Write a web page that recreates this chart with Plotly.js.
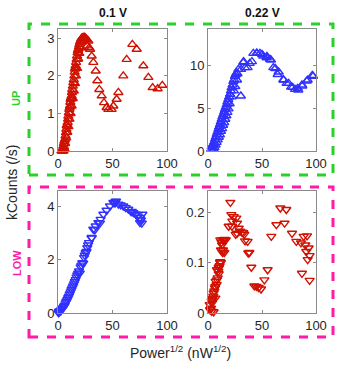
<!DOCTYPE html>
<html>
<head>
<meta charset="utf-8">
<script src="https://cdn.plot.ly/plotly-3.0.1.min.js"></script>
<style>
  html, body { margin: 0; padding: 0; background: #fff; }
  #chart { width: 339px; height: 366px; }
</style>
</head>
<body>
<div id="chart"></div>
<script>
// UP, 0.1 V
const upLowX = [3.2, 3.8, 4.3, 4.9, 5.4, 5.9, 6.4, 6.9, 7.3, 7.7,
  8.0, 8.4, 8.9, 9.2, 9.5, 10.0, 10.4, 10.7, 11.0, 11.3,
  11.6, 12.0, 12.5, 12.8, 13.1, 13.6, 14.1, 14.5, 15.0, 15.3,
  15.6, 15.9, 16.2, 16.6, 17.1, 17.5, 18.0, 18.3, 18.7, 19.2,
  19.6, 20.2, 20.8, 21.2, 21.7, 22.3, 23.2, 24.0, 24.8, 25.5,
  26.3, 26.9, 27.8, 28.6, 29.4, 30.9, 32.4, 34.6, 36.1, 37.9,
  40.1, 42.2, 44.6, 46.2, 49.2, 50.8, 53.8, 55.4, 59.9, 63.0,
  68.2, 72.2, 78.3, 82.9, 86.8, 91.4, 95.7,
  4.5, 5.5, 6.5, 7.5, 8.5, 9.5, 10.5, 11.5, 12.5, 13.5,
  14.5, 15.5, 16.5, 17.5, 18.5, 19.5, 20.5, 22.0, 5.0, 6.0, 4.0];
const upLowY = [0.00, 0.03, 0.06, 0.13, 0.20, 0.26, 0.31, 0.40, 0.49, 0.58,
  0.67, 0.70, 0.76, 0.85, 0.93, 1.02, 1.11, 1.15, 1.20, 1.30,
  1.38, 1.42, 1.47, 1.56, 1.64, 1.73, 1.82, 1.90, 2.00, 2.10,
  2.18, 2.22, 2.27, 2.36, 2.44, 2.53, 2.62, 2.67, 2.71, 2.78,
  2.84, 2.90, 2.93, 2.97, 3.00, 3.02, 3.02, 3.03, 3.02, 3.00,
  2.97, 2.80, 2.93, 2.75, 2.71, 2.53, 2.36, 2.13, 1.87, 1.64,
  1.47, 1.29, 1.16, 1.11, 1.11, 1.20, 1.38, 1.56, 2.00, 2.44,
  2.84, 2.71, 2.27, 1.96, 1.69, 1.66, 1.75,
  0.02, 0.10, 0.20, 0.35, 0.50, 0.65, 0.85, 1.00, 1.20, 1.40,
  1.60, 1.80, 2.00, 2.20, 2.45, 2.60, 2.75, 2.90, 0.00, 0.05, 0.00];

// UP, 0.22 V
const upHighX = [3.0, 3.4, 4.0, 4.9, 5.5, 6.5, 7.2, 8.0, 8.8, 9.6,
  10.3, 11.1, 11.9, 12.7, 13.4, 14.2, 15.0, 15.7, 16.5, 17.3,
  18.0, 18.8, 19.6, 20.4, 21.2, 21.9, 22.7, 23.5, 24.2, 25.0,
  25.8, 26.5, 27.3, 28.1, 30.4, 30.6, 32.7, 33.0, 34.3, 36.7,
  38.6, 40.7, 42.0, 45.0, 45.4, 48.1, 50.0, 51.2, 54.3, 54.6,
  57.4, 58.3, 60.5, 62.3, 64.5, 65.4, 69.8, 70.0, 72.8, 74.7,
  76.9, 78.4, 80.6, 83.0, 83.6, 87.0, 87.3, 91.4, 92.3, 96.6, 97.2,
  5, 6, 7, 8, 9, 10, 11, 12, 13, 14, 15, 16, 17, 18, 19, 20, 22, 24, 25.3, 26.9];
const upHighY = [0.2, 0.5, 0.6, 0.78, 1.0, 1.36, 1.6, 1.94, 2.2, 2.5,
  2.8, 3.1, 3.4, 3.7, 4.0, 4.26, 4.55, 4.84, 5.1, 5.4,
  5.7, 6.0, 6.3, 6.6, 7.0, 7.36, 7.7, 8.1, 8.3, 8.7,
  8.9, 9.1, 9.0, 9.5, 6.4, 9.5, 10.3, 10.4, 9.7, 9.7,
  10.2, 10.4, 11.36, 11.4, 11.36, 11.36, 11.24, 11.05, 10.85, 11.0,
  10.66, 10.6, 9.7, 9.6, 8.9, 9.2, 8.3, 8.26, 7.87, 7.87,
  7.44, 7.4, 7.17, 7.3, 7.1, 7.7, 7.56, 8.14, 8.26, 8.8, 8.7,
  0.2, 0.4, 0.7, 1.0, 1.3, 1.6, 1.9, 2.3, 2.6, 3.0, 3.3, 3.7, 4.1, 4.5, 4.9, 5.5, 6.3, 7.0, 7.5, 8.26];

// LOW, 0.1 V
const lowLowX = [0.5, 0.9, 1.5, 2.0, 2.8, 3.2, 4.0, 4.5, 5.5, 6.2,
  7.0, 7.8, 8.6, 9.3, 10.1, 10.8, 11.6, 12.4, 13.1, 13.9,
  14.7, 15.4, 16.2, 17.0, 17.7, 18.5, 19.3, 20.0, 20.8, 21.5,
  22.3, 23.1, 23.9, 24.6, 25.4, 26.2, 26.9, 27.6, 28.4, 30.8,
  30.9, 32.4, 33.8, 34.6, 37.0, 38.5, 39.1, 41.6, 44.6, 47.7,
  50.8, 52.3, 52.9, 53.2, 55.4, 57.5, 59.9, 62.1, 64.5, 67.0,
  67.7, 69.1, 71.3, 73.1, 75.2, 75.4, 76.1, 76.9, 75.2, 77.4];
const lowLowY = [0.02, 0.075, 0.05, 0.1, 0.1, 0.15, 0.18, 0.2, 0.26, 0.3,
  0.39, 0.45, 0.51, 0.58, 0.64, 0.72, 0.8, 0.88, 0.95, 1.02,
  1.1, 1.18, 1.26, 1.35, 1.43, 1.5, 1.58, 1.5, 1.73, 1.8,
  1.89, 1.87, 2.08, 2.17, 2.26, 2.31, 2.45, 2.55, 2.64, 2.81,
  2.83, 3.14, 3.12, 3.26, 3.39, 3.37, 3.51, 3.7, 3.85, 4.01,
  4.14, 4.12, 4.18, 4.19, 4.08, 4.05, 4.01, 3.95, 3.89, 3.8,
  3.81, 3.76, 3.7, 3.64, 3.58, 3.5, 3.48, 3.37, 3.39, 3.7];

// LOW, 0.22 V
const lowHighX = [1.5, 1.85, 2.8, 3.4, 3.7, 4.0, 4.6, 4.9, 5.2, 5.9,
  6.5, 6.8, 6.8, 7.1, 8.0, 8.3, 8.3, 9.0, 9.6, 9.9,
  9.9, 10.2, 10.8, 11.1, 11.4, 12.0, 11.4, 13.0, 13.9, 14.5,
  15.1, 19.1, 20.7, 21.6, 22.2, 23.8, 26.2, 26.9, 26.9, 28.4,
  31.5, 33.6, 36.7, 38.3, 40.1, 42.9, 44.8, 46.9, 49.1, 52.2,
  55.2, 58.6, 63.3, 67.0, 70.9, 72.5, 77.8, 81.8, 86.1, 87.0,
  88.6, 90.1, 91.0, 91.7, 92.3, 93.2, 94.1, 94.1, 5.2, 3.4,
  12.5, 13.5, 14.5, 15.5, 16.5, 12.0, 13.5, 22.5, 25.6, 29.6, 32.7, 34.3, 37.3];
const lowHighY = [0.017, 0.007, 0.01, 0.004, 0.02, 0.027, 0.03, 0.034, 0.04, 0.044,
  0.05, 0.053, 0.03, 0.063, 0.057, 0.066, 0.086, 0.07, 0.083, 0.078,
  0.091, 0.09, 0.094, 0.10, 0.102, 0.10, 0.145, 0.135, 0.125, 0.145,
  0.12, 0.172, 0.219, 0.195, 0.172, 0.191, 0.188, 0.178, 0.158, 0.168,
  0.160, 0.156, 0.142, 0.12, 0.091, 0.054, 0.053, 0.051, 0.048, 0.066,
  0.086, 0.152, 0.175, 0.208, 0.178, 0.205, 0.158, 0.142, 0.139, 0.079,
  0.152, 0.135, 0.122, 0.153, 0.106, 0.129, 0.114, 0.065, 0.003, 0.024,
  0.14, 0.145, 0.143, 0.146, 0.145, 0.125, 0.12, 0.182, 0.156, 0.162, 0.159, 0.143, 0.119];

const red = 'rgb(208,16,0)';
const blue = 'rgb(48,48,255)';
const W = 339, H = 366;
const px = v => v / W;
const py = v => 1 - v / H;

function series(x, y, xa, ya, color, sym) {
  return {
    x: x, y: y, xaxis: xa, yaxis: ya, type: 'scatter', mode: 'markers',
    marker: { symbol: sym, size: 8, color: color, line: { color: color, width: 1.4 } },
    showlegend: false, hoverinfo: 'skip', cliponaxis: false
  };
}

const traces = [
  series(upLowX, upLowY, 'x', 'y', red, 'triangle-up-open'),
  series(upHighX, upHighY, 'x2', 'y2', blue, 'triangle-up-open'),
  series(lowLowX, lowLowY, 'x3', 'y3', blue, 'triangle-down-open'),
  series(lowHighX, lowHighY, 'x4', 'y4', red, 'triangle-down-open')
];

function ax(domain, anchor, range, dtick) {
  return {
    domain: domain, anchor: anchor, range: range, dtick: dtick,
    showline: true, mirror: 'ticks', linecolor: '#8a8a8a', linewidth: 1,
    ticks: 'inside', ticklen: 3, tickcolor: '#8a8a8a',
    showgrid: false, zeroline: false,
    tickfont: { family: 'Liberation Sans, Arial, sans-serif', size: 13, color: '#262626' }
  };
}

const colL = [px(58), px(167)], colR = [px(208), px(316)];
const rowT = [py(151), py(29)], rowB = [py(313.3), py(191)];

const font = 'Liberation Sans, Arial, sans-serif';
function label(text, x, y, size, color, angle) {
  return { text: text, x: px(x), y: py(y), xref: 'paper', yref: 'paper', showarrow: false,
    xanchor: 'center', yanchor: 'middle', textangle: angle || 0,
    font: { family: font, size: size, color: color } };
}

const layout = {
  width: W, height: H,
  margin: { l: 0, r: 0, t: 0, b: 0 },
  paper_bgcolor: '#fff', plot_bgcolor: '#fff',
  xaxis: ax(colL, 'y', [0, 100], 50),
  yaxis: ax(rowT, 'x', [0, 3.25], 1),
  xaxis2: ax(colR, 'y2', [0, 100], 50),
  yaxis2: ax(rowT, 'x2', [0, 14.2], 5),
  xaxis3: ax(colL, 'y3', [0, 100], 50),
  yaxis3: ax(rowB, 'x3', [0, 4.57], 2),
  xaxis4: ax(colR, 'y4', [0, 100], 50),
  yaxis4: ax(rowB, 'x4', [0, 0.2416], 0.1),
  shapes: [
    { type: 'rect', xref: 'paper', yref: 'paper', x0: px(29), x1: px(333), y0: py(175), y1: py(24),
      line: { color: '#2ad12a', width: 3, dash: 'dash' } },
    { type: 'rect', xref: 'paper', yref: 'paper', x0: px(29), x1: px(333), y0: py(337), y1: py(187),
      line: { color: '#ff1aa8', width: 3, dash: 'dash' } }
  ],
  annotations: [
    label('<b>0.1 V</b>', 113, 13, 12, '#111'),
    label('<b>0.22 V</b>', 262, 13, 12, '#111'),
    label('<b>UP</b>', 16, 99, 11, '#2ad12a', -90),
    label('<b>LOW</b>', 17, 263, 11, '#ff1aa8', -90),
    label('kCounts (/s)', 12, 183, 14, '#262626', -90),
    label('Power<sup>1/2</sup> (nW<sup>1/2</sup>)', 180, 352, 14, '#262626')
  ]
};

Plotly.newPlot('chart', traces, layout, { staticPlot: true, displayModeBar: false });
</script>
</body>
</html>
